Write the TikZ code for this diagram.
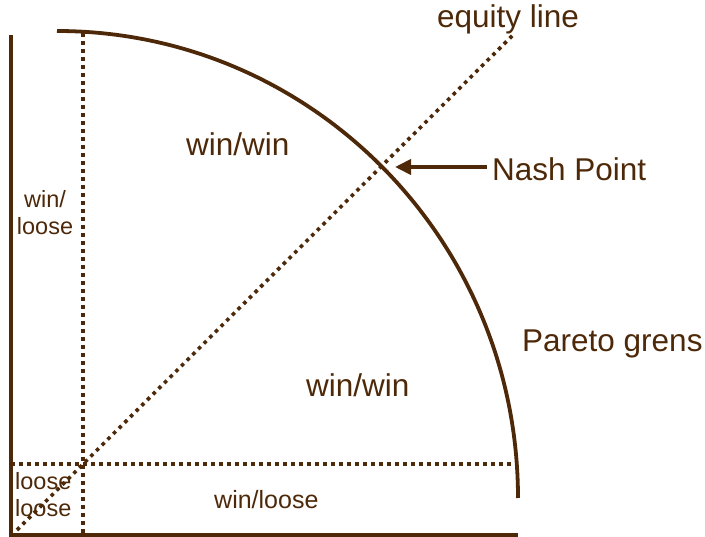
\documentclass[tikz,border=0pt]{standalone}
\usepackage{fontspec}
\setmainfont{Liberation Sans}
\usetikzlibrary{arrows.meta}
\definecolor{brn}{RGB}{77,41,9}
\tikzset{
  solidline/.style={draw=brn,line width=3.8pt},
  dotline/.style={draw=brn,line width=3.6pt,dash pattern=on 3.6pt off 4.4pt},
  biglabel/.style={text=brn,font=\fontsize{31.5}{36}\selectfont,inner sep=0pt},
  smalllabel/.style={text=brn,font=\fontsize{23.5}{27}\selectfont,inner sep=0pt,align=center},
}
\begin{document}
\begin{tikzpicture}[x=1pt,y=-1pt]
\useasboundingbox (0,0) rectangle (705,537);
% coordinates
\coordinate (axtop) at (11,35);
\coordinate (origin) at (11,535);
\coordinate (axright) at (518,535);
\coordinate (vtop) at (83,33);
\coordinate (vbot) at (83,535);
\coordinate (hleft) at (11,464);
\coordinate (hright) at (515,464);
\coordinate (arcstart) at (57,31);
\coordinate (arcend) at (518,498);
\coordinate (eqstart) at (17,530);
\coordinate (eqend) at (515,33);
\coordinate (nash) at (395,167);
\coordinate (arrowtail) at (487,167);
% axes
\draw[solidline] (axtop) -- (origin) -- (axright);
% dotted guides
\draw[dotline] (vtop) -- (vbot);
\draw[dotline] (hleft) -- (hright);
\draw[dotline] (eqstart) -- (eqend);
% pareto frontier
\draw[solidline] (arcstart) .. controls (311.6,31) and (518,240.1) .. (arcend);
% arrow
\draw[solidline,-{Triangle[length=16pt,width=15pt]}] (arrowtail) -- (nash);
% labels
\node[biglabel,anchor=base] (eq) at (508,28) {equity line};
\node[biglabel,anchor=base west] (np) at (492,181) {Nash Point};
\node[biglabel,anchor=base west] (pg) at (522,352) {Pareto grens};
\node[biglabel,anchor=base west] (ww1) at (186,156) {win/win};
\node[biglabel,anchor=base west] (ww2) at (306,397) {win/win};
\node[smalllabel,font=\fontsize{25}{28}\selectfont,anchor=base west] (wl) at (214,508) {win/loose};
\node[smalllabel,anchor=base] (wl2) at (45,235) {win/\\loose};
\node[smalllabel,anchor=base west,align=left] (ll) at (15,517) {loose\\loose};
\end{tikzpicture}
\end{document}
